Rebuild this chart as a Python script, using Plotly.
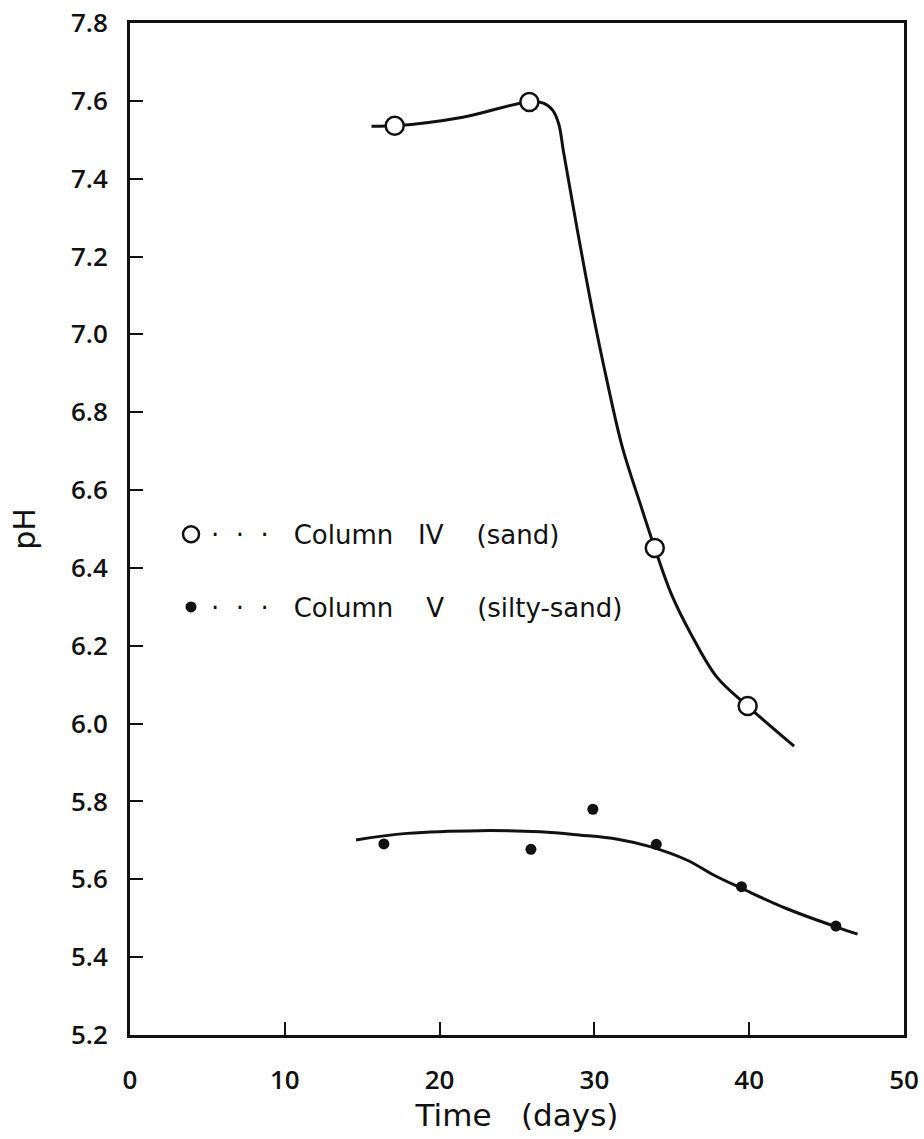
import plotly.graph_objects as go

# Measured pH values
col4_days = [17.1, 25.8, 33.9, 39.9]
col4_ph = [7.536, 7.597, 6.451, 6.045]

col5_days = [16.4, 25.9, 29.9, 34.0, 39.5, 45.6]
col5_ph = [5.691, 5.677, 5.780, 5.690, 5.581, 5.480]

# Hand-fitted trend curves
col4_fit_days = [15.6, 17.1, 21.5, 25.7, 26.7, 27.3, 27.7, 28.0, 28.4, 29.1, 29.9,
                 30.8, 31.8, 33.0, 33.9, 35.0, 36.2, 37.9, 39.9, 42.9]
col4_fit_ph = [7.535, 7.536, 7.558, 7.597, 7.594, 7.576, 7.540, 7.470, 7.380, 7.224,
               7.055, 6.883, 6.711, 6.560, 6.451, 6.330, 6.233, 6.120, 6.045, 5.942]

col5_fit_days = [14.6, 17.9, 22.6, 26.5, 29.0, 31.5, 33.6, 36.0, 37.7, 39.5, 42.4, 45.6, 47.0]
col5_fit_ph = [5.701, 5.718, 5.725, 5.722, 5.714, 5.703, 5.684, 5.649, 5.611, 5.577,
               5.525, 5.478, 5.459]

x_ticks = [0, 10, 20, 30, 40, 50]
y_ticks = [5.2, 5.4, 5.6, 5.8, 6.0, 6.2, 6.4, 6.6, 6.8, 7.0, 7.2, 7.4, 7.6, 7.8]

INK = "#111111"
TICK_FONT = dict(family="Open Sans", size=26, color=INK, weight=600)

fig = go.Figure()

fig.add_trace(go.Scatter(
    x=col4_fit_days, y=col4_fit_ph, mode="lines",
    line=dict(color=INK, width=3, shape="spline", smoothing=1.0),
    showlegend=False, hoverinfo="skip"))
fig.add_trace(go.Scatter(
    x=col5_fit_days, y=col5_fit_ph, mode="lines",
    line=dict(color=INK, width=3, shape="spline", smoothing=1.1),
    showlegend=False, hoverinfo="skip"))

fig.add_trace(go.Scatter(
    x=col4_days, y=col4_ph, mode="markers",
    name="·  ·  ·   Column   IV    (sand)", legendgroup="iv",
    marker=dict(symbol="circle", size=18, color="white",
                line=dict(color=INK, width=2.5))))
fig.add_trace(go.Scatter(
    x=col5_days, y=col5_ph, mode="markers",
    name="·  ·  ·   Column    V    (silty-sand)", legendgroup="v",
    marker=dict(symbol="circle", size=11, color=INK,
                line=dict(color=INK, width=0))))

fig.update_layout(
    width=924, height=1139,
    margin=dict(l=130, r=20, t=23, b=104, autoexpand=False),
    paper_bgcolor="white", plot_bgcolor="white",
    font=dict(family="DejaVu Sans", color=INK),
    showlegend=True,
    legend=dict(
        x=0.053, y=0.518, xanchor="left", yanchor="top",
        bgcolor="rgba(0,0,0,0)", borderwidth=0,
        font=dict(family="DejaVu Sans", size=26, color=INK),
        traceorder="grouped", tracegroupgap=36, itemwidth=30,
    ),
    xaxis=dict(
        range=[0, 50], tickvals=x_ticks, ticktext=[str(v) for v in x_ticks],
        ticks="inside", ticklen=13, tickwidth=2, tickcolor=INK,
        showline=True, linewidth=3, linecolor=INK, mirror=True,
        showgrid=False, zeroline=False, automargin=False,
        tickfont=TICK_FONT,
        ticklabelstandoff=20,
        title=dict(text="Time   (days)", font=dict(family="DejaVu Sans", size=31, color=INK),
                   standoff=0),
    ),
    yaxis=dict(
        range=[5.2, 7.8], tickvals=y_ticks, ticktext=[f"{v:.1f}" for v in y_ticks],
        ticks="inside", ticklen=13, tickwidth=2, tickcolor=INK,
        showline=True, linewidth=3, linecolor=INK, mirror=True,
        showgrid=False, zeroline=False, automargin=False,
        tickfont=TICK_FONT,
        ticklabelstandoff=14,
        title=dict(text="pH", font=dict(family="DejaVu Sans", size=30, color=INK),
                   standoff=27),
    ),
)

fig.write_html("out.html")
